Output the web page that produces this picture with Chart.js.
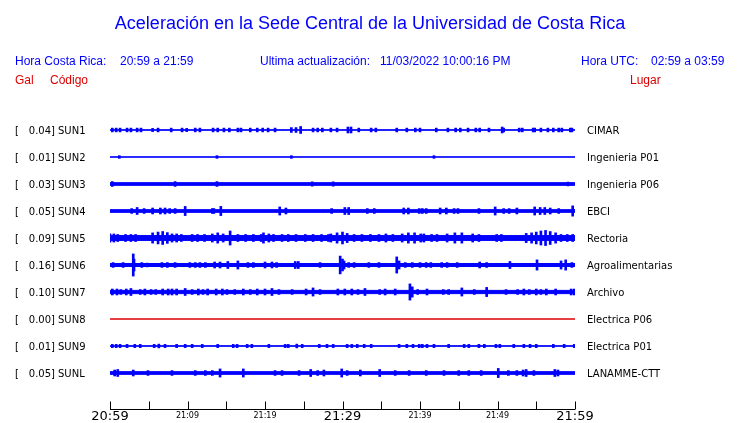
<!DOCTYPE html>
<html lang="es">
<head>
<meta charset="UTF-8">
<title>Aceleración Sede Central UCR</title>
<script src="https://cdn.jsdelivr.net/npm/chart.js"></script>
<style>
  body { margin: 0; background: #fff; }
  canvas { display: block; }
</style>
</head>
<body>
<canvas id="sismo" width="740" height="423"></canvas>
<script>
// estaciones de arriba hacia abajo
const codigos = ['SUN1', 'SUN2', 'SUN3', 'SUN4', 'SUN5', 'SUN6', 'SUN7', 'SUN8', 'SUN9', 'SUNL'];
const gal = [0.04, 0.01, 0.03, 0.05, 0.09, 0.16, 0.10, 0.00, 0.01, 0.05];
const lugares = ['CIMAR', 'Ingenieria P01', 'Ingenieria P06', 'EBCI', 'Rectoria',
  'Agroalimentarias', 'Archivo', 'Electrica P06', 'Electrica P01', 'LANAMME-CTT'];

// ruido de fondo (media amplitud, en unidades de separacion entre trazas)
const ruido = [0.01, 0.005, 0.05, 0.05, 0.09, 0.055, 0.06, 0, 0.01, 0.05];

// eje de tiempo: minutos desde las 20:59
const marcas = [0, 5, 10, 15, 20, 25, 30, 35, 40, 45, 50, 55, 60];
const minutosEtiqueta = [0, 10, 20, 30, 40, 50, 60];
const etiquetas = ['20:59', '21:09', '21:19', '21:29', '21:39', '21:49', '21:59'];

// eventos [minuto, media amplitud]
const eventosSUN1 = [[0.3,0.07],[0.8,0.07],[1.3,0.07],[2.2,0.07],[2.7,0.07],[3.5,0.07],[4.0,0.07],[5.5,0.06],
  [6.2,0.07],[7.9,0.07],[9.3,0.07],[9.9,0.06],[11.0,0.07],[11.6,0.07],[13.3,0.07],[13.9,0.07],[14.7,0.07],
  [15.4,0.07],[16.5,0.07],[16.9,0.07],[18.1,0.07],[19.0,0.07],[19.7,0.07],[20.4,0.07],[21.3,0.07],
  [23.4,0.09],[24.0,0.09],[24.6,0.13],[26.2,0.07],[26.8,0.07],[27.4,0.07],[28.5,0.07],[29.3,0.07],
  [30.7,0.11],[31.1,0.11],[32.1,0.07],[33.7,0.07],[34.3,0.07],[37.0,0.07],[38.3,0.07],[39.4,0.07],
  [40.0,0.07],[42.1,0.07],[43.6,0.07],[44.6,0.07],[45.2,0.07],[46.2,0.07],[47.2,0.07],[47.7,0.07],
  [48.9,0.07],[50.6,0.11],[50.8,0.07],[52.8,0.07],[53.2,0.07],[54.6,0.07],[54.8,0.07],[55.6,0.07],
  [56.5,0.07],[57.2,0.07],[57.9,0.07],[58.3,0.07],[59.4,0.07],[59.6,0.07]];
const eventosSUN2 = [[1.2,0.05],[13.8,0.05],[23.4,0.05],[41.8,0.05]];
const eventosSUN3 = [[0.3,0.09],[8.4,0.09],[13.8,0.09],[26.1,0.08],[28.8,0.08],[59.1,0.07]];
const eventosSUN4 = [[2.8,0.09],[3.5,0.13],[4.4,0.09],[5.5,0.11],[6.5,0.11],[7.1,0.11],[7.7,0.09],[8.4,0.09],
  [9.7,0.17],[13.2,0.09],[13.4,0.09],[14.3,0.17],[21.9,0.15],[22.7,0.11],[28.6,0.09],[30.3,0.13],[30.8,0.13],
  [33.2,0.09],[34.1,0.09],[37.9,0.11],[38.5,0.11],[39.9,0.09],[40.3,0.09],[40.8,0.09],[42.6,0.11],[43.4,0.11],
  [44.4,0.09],[44.9,0.09],[47.6,0.09],[49.7,0.15],[50.8,0.09],[51.5,0.09],[52.5,0.11],[54.8,0.15],[55.5,0.13],
  [56.1,0.13],[56.8,0.11],[57.9,0.09],[59.7,0.19]];
const eventosSUN5 = [[0.0,0.15],[0.5,0.15],[1.0,0.13],[2.0,0.13],[2.7,0.13],[3.3,0.13],[5.5,0.19],[6.2,0.22],
  [6.8,0.24],[7.4,0.2],[8.0,0.15],[8.6,0.15],[9.2,0.13],[10.6,0.13],[11.3,0.13],[12.2,0.13],[13.2,0.15],
  [13.9,0.19],[14.6,0.15],[15.5,0.26],[16.5,0.13],[17.5,0.13],[18.5,0.13],[19.5,0.13],[19.8,0.19],[20.5,0.15],
  [21.1,0.13],[22.2,0.13],[23.0,0.13],[24.0,0.13],[25.2,0.13],[26.2,0.13],[27.3,0.13],[28.2,0.13],[28.5,0.15],
  [29.3,0.19],[30.0,0.22],[30.6,0.17],[31.5,0.13],[32.5,0.13],[33.6,0.13],[34.7,0.13],[35.6,0.15],[36.5,0.13],
  [37.7,0.15],[38.5,0.19],[39.3,0.19],[40.1,0.15],[40.5,0.15],[41.5,0.13],[42.2,0.13],[43.5,0.15],[44.5,0.19],
  [45.4,0.19],[46.8,0.15],[47.6,0.13],[49.9,0.13],[50.5,0.13],[53.7,0.17],[54.4,0.19],[55.0,0.22],[55.6,0.26],
  [56.2,0.28],[56.8,0.24],[57.5,0.19],[58.2,0.13],[59.0,0.13],[59.7,0.13]];
const eventosSUN6 = [[0.4,0.09],[1.7,0.09],[3.0,0.41],[3.1,0.22],[4.1,0.09],[4.8,0.07],[6.7,0.09],[7.4,0.09],
  [8.4,0.09],[10.3,0.09],[11.0,0.09],[11.6,0.09],[12.3,0.09],[13.5,0.11],[14.2,0.11],[15.2,0.13],[16.5,0.15],
  [17.8,0.09],[18.5,0.09],[20.0,0.11],[20.9,0.11],[21.5,0.09],[23.9,0.13],[24.3,0.13],[27.1,0.09],[29.7,0.33],
  [30.0,0.22],[30.2,0.15],[30.8,0.09],[31.5,0.09],[33.4,0.09],[34.7,0.09],[37.0,0.3],[37.3,0.15],[38.1,0.09],
  [39.0,0.09],[40.0,0.09],[40.8,0.09],[41.4,0.09],[42.8,0.09],[43.5,0.09],[44.8,0.09],[47.7,0.11],[48.6,0.09],
  [51.6,0.13],[55.1,0.19],[58.2,0.15],[58.8,0.19],[59.6,0.09]];
const eventosSUN7 = [[0.3,0.11],[0.9,0.11],[1.4,0.09],[2.1,0.11],[2.7,0.13],[3.9,0.09],[4.5,0.11],[5.3,0.09],
  [5.9,0.09],[6.8,0.11],[7.5,0.11],[8.0,0.11],[8.6,0.11],[9.7,0.13],[10.6,0.09],[11.4,0.11],[12.0,0.09],
  [12.6,0.11],[13.7,0.11],[14.5,0.11],[15.1,0.09],[16.1,0.09],[17.2,0.11],[18.1,0.09],[19.0,0.11],[20.0,0.11],
  [20.9,0.13],[21.8,0.09],[23.5,0.09],[25.3,0.11],[26.2,0.15],[27.1,0.09],[29.4,0.11],[30.3,0.11],[31.2,0.11],
  [32.0,0.09],[32.9,0.13],[34.8,0.09],[35.5,0.11],[36.8,0.11],[38.7,0.3],[39.0,0.19],[39.7,0.09],[40.9,0.11],
  [43.0,0.09],[43.7,0.09],[45.4,0.15],[47.0,0.09],[48.6,0.17],[51.1,0.09],[52.6,0.09],[53.4,0.11],[54.1,0.09],
  [55.0,0.11],[55.6,0.09],[56.3,0.11],[57.5,0.11],[59.5,0.11],[59.9,0.11]];
const eventosSUN8 = [];
const eventosSUN9 = [[0.3,0.06],[0.8,0.06],[1.3,0.06],[2.2,0.06],[3.2,0.06],[3.9,0.06],[5.7,0.06],[6.3,0.07],
  [7.1,0.06],[8.6,0.06],[9.7,0.06],[10.6,0.06],[11.9,0.06],[13.9,0.06],[15.9,0.06],[16.4,0.06],[17.7,0.06],
  [18.3,0.06],[20.5,0.06],[22.6,0.06],[23.0,0.06],[24.1,0.07],[24.8,0.06],[27.0,0.06],[28.0,0.06],[28.8,0.06],
  [30.6,0.06],[31.2,0.06],[31.9,0.06],[32.8,0.06],[33.7,0.06],[37.3,0.06],[38.3,0.06],[39.1,0.06],[39.9,0.06],
  [40.3,0.06],[40.9,0.06],[41.8,0.06],[43.7,0.06],[45.7,0.06],[46.3,0.06],[47.6,0.06],[48.3,0.06],[49.8,0.06],
  [50.3,0.06],[52.1,0.06],[53.4,0.06],[54.2,0.06],[55.0,0.06],[57.2,0.06],[58.6,0.06],[59.9,0.06]];
const eventosSUNL = [[0.6,0.11],[1.0,0.13],[3.0,0.11],[4.9,0.09],[8.0,0.09],[11.0,0.09],[12.3,0.09],[13.2,0.09],
  [14.2,0.15],[17.2,0.15],[21.3,0.09],[22.2,0.09],[24.4,0.09],[25.9,0.13],[26.8,0.09],[27.6,0.11],[29.9,0.15],
  [30.6,0.09],[32.3,0.11],[34.8,0.13],[36.8,0.09],[38.6,0.09],[40.8,0.09],[43.1,0.09],[45.0,0.09],[46.3,0.09],
  [47.9,0.09],[50.1,0.17],[51.4,0.09],[52.5,0.09],[53.3,0.11],[53.7,0.13],[54.7,0.09],[57.4,0.13],[57.8,0.11]];

const eventos = [eventosSUN1, eventosSUN2, eventosSUN3, eventosSUN4, eventosSUN5,
  eventosSUN6, eventosSUN7, eventosSUN8, eventosSUN9, eventosSUNL];

const AZUL = '#0000ff';
const ROJO = '#dd0000';

// cada estacion en su propia linea base: SUN1 arriba (10) ... SUNL abajo (1)
const datasets = [];
codigos.forEach((cod, i) => {
  const base = codigos.length - i;
  const color = gal[i] === 0 ? ROJO : AZUL;
  datasets.push({
    type: 'line', label: cod + ' sup',
    data: [{x: 0, y: base + ruido[i]}, {x: 60, y: base + ruido[i]}],
    borderColor: color, backgroundColor: color, borderWidth: 1, pointRadius: 0, fill: '+1'
  });
  datasets.push({
    type: 'line', label: cod + ' inf',
    data: [{x: 0, y: base - ruido[i]}, {x: 60, y: base - ruido[i]}],
    borderColor: color, borderWidth: 1, pointRadius: 0, fill: false
  });
  datasets.push({
    type: 'bar', label: cod,
    data: eventos[i].map(e => ({x: e[0], y: [base - e[1], base + e[1]]})),
    backgroundColor: color, borderWidth: 0, barThickness: 2, grouped: false
  });
});

const textos = {
  id: 'textos',
  afterDraw(chart) {
    const ctx = chart.ctx;
    const x = chart.scales.x, y = chart.scales.y;
    ctx.save();

    // encabezado
    ctx.fillStyle = AZUL;
    ctx.textBaseline = 'alphabetic';
    ctx.font = '18px "Liberation Sans", Arial, sans-serif';
    ctx.textAlign = 'center';
    ctx.fillText('Aceleración en la Sede Central de la Universidad de Costa Rica', 370, 29);
    ctx.font = '12px "Liberation Sans", Arial, sans-serif';
    ctx.textAlign = 'left';
    ctx.fillText('Hora Costa Rica:', 15, 65);
    ctx.fillText('20:59 a 21:59', 120, 65);
    ctx.fillText('Ultima actualización:', 260, 65);
    ctx.fillText('11/03/2022 10:00:16 PM', 380, 65);
    ctx.fillText('Hora UTC:', 581, 65);
    ctx.fillText('02:59 a 03:59', 651, 65);
    ctx.fillStyle = ROJO;
    ctx.fillText('Gal', 15, 84);
    ctx.fillText('Código', 50, 84);
    ctx.fillText('Lugar', 630, 84);

    // etiquetas de estaciones
    ctx.fillStyle = '#000';
    ctx.font = '10px "DejaVu Sans", sans-serif';
    codigos.forEach((cod, i) => {
      const py = y.getPixelForValue(codigos.length - i) + 3.5;
      ctx.textAlign = 'left';
      ctx.fillText('[', 15, py);
      ctx.textAlign = 'right';
      ctx.fillText(gal[i].toFixed(2) + ']', 55, py);
      ctx.textAlign = 'left';
      ctx.fillText(cod, 58, py);
      ctx.fillText(lugares[i], 587, py);
    });

    // eje de tiempo
    const yEje = Math.round(y.getPixelForValue(y.min)) + 0.5;
    ctx.strokeStyle = '#000';
    ctx.lineWidth = 1;
    ctx.beginPath();
    ctx.moveTo(x.getPixelForValue(0), yEje);
    ctx.lineTo(x.getPixelForValue(60), yEje);
    marcas.forEach(m => {
      const px = Math.round(x.getPixelForValue(m)) + 0.5;
      ctx.moveTo(px, yEje);
      ctx.lineTo(px, yEje - 8);
    });
    ctx.stroke();
    ctx.textAlign = 'center';
    minutosEtiqueta.forEach((m, k) => {
      const grande = m % 30 === 0;
      ctx.font = (grande ? '13px' : '8px') + ' "DejaVu Sans", sans-serif';
      ctx.fillText(etiquetas[k], x.getPixelForValue(m), grande ? 420 : 418);
    });
    ctx.restore();
  }
};

new Chart(document.getElementById('sismo'), {
  type: 'line',
  data: { datasets },
  options: {
    responsive: false,
    animation: false,
    layout: { padding: { left: 110, right: 165, top: 103, bottom: 14 } },
    scales: {
      x: { type: 'linear', min: 0, max: 60, offset: false, display: false },
      y: { type: 'linear', min: -1 / 3, max: 11, display: false }
    },
    plugins: { legend: { display: false }, tooltip: { enabled: false } }
  },
  plugins: [textos]
});
</script>
</body>
</html>
